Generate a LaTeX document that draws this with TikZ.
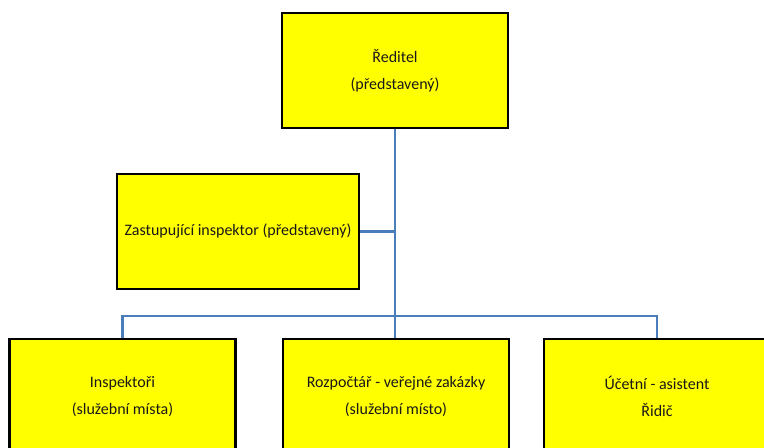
\documentclass[tikz,border=0pt]{standalone}
\usepackage{fontspec}
\setmainfont{Carlito}
\usetikzlibrary{backgrounds}
\definecolor{boxyellow}{RGB}{255,255,0}
\definecolor{linkblue}{RGB}{74,126,187}
\begin{document}
\begin{tikzpicture}[x=0.75pt,y=-0.75pt,
  orgbox/.style={draw=black, line width=2pt, fill=boxyellow, rectangle,
    minimum width=169.5pt, minimum height=86.25pt, inner sep=0pt, align=center,
    font=\fontsize{12}{20.5}\selectfont, text=black!90},
  link/.style={draw=linkblue, line width=2pt}]
\path[use as bounding box] (0,0) rectangle (764,447);
\begin{scope}
\clip (0,0) rectangle (764,447);
\node[orgbox] (top) at (395,70.5) {Ředitel\\(představený)};
\node[orgbox, minimum width=181.5pt] (zast) at (238,231.5) {Zastupující inspektor (představený)};
\node[orgbox] (b1) at (122.5,396.5) {Inspektoři\\(služební místa)};
\node[orgbox] (b2) at (396,396.5) {Rozpočtář - veřejné zakázky\\(služební místo)};
\node[orgbox] (b3) at (657,396.5) {Účetní - asistent\\Řidič};
\end{scope}
\coordinate (bl) at (b1.north |- 0,316);
\coordinate (br) at (b3.north |- 0,316);
\begin{scope}[on background layer]
\draw[link] (top.south) -- (top.south |- b2.north);
\draw[link] (zast.east) -- (zast.east -| top.south);
\draw[link] (b1.north) -- (bl) -- (br) -- (b3.north);
\end{scope}
\end{tikzpicture}
\end{document}
